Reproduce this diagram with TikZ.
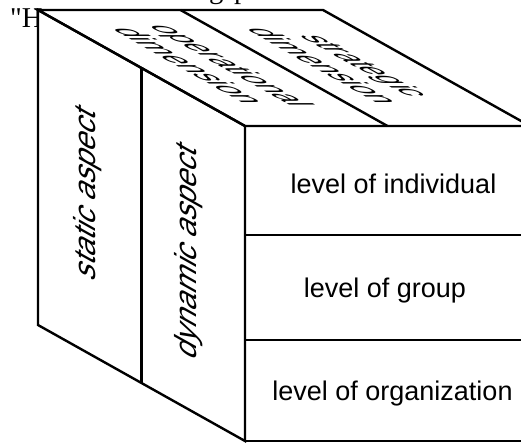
\documentclass[tikz,border=0pt]{standalone}
\usepackage{fontspec}
\setmainfont{Liberation Sans}
\newfontfamily\captionserif{Liberation Serif}
\begin{document}
\begin{tikzpicture}[x=1pt,y=-1pt,
  edge/.style={line width=2.4pt, line join=miter},
  frontlabel/.style={font=\fontsize{27}{32}\selectfont, anchor=base, inner sep=0pt},
  sidelabel/.style={font=\fontsize{30.5}{36}\selectfont, inner sep=0pt,
    cm={0,1,-1,0.5604,(0,0)}},
  toplabel/.style={font=\fontsize{30}{35}\selectfont, inner sep=0pt, align=center,
    cm={0.97,-0.5436,1.2,0,(0,0)}},
  captiontext/.style={font=\captionserif\fontsize{28.7}{28.7}\selectfont,
    inner sep=0pt, anchor=base west}]
\useasboundingbox (0,0) rectangle (521,442);
\clip (0,0) rectangle (521,442);

% caption lines running behind the cube
\node[captiontext] (capg) at (209,-1.5) {g};
\node[captiontext] (capp) at (234,-1.5) {p};
\node[captiontext] (caph) at (10,27) {"H};

% cube corners
\coordinate (btl) at (38,10);
\coordinate (btr) at (323,10);
\coordinate (ftl) at (245,126);
\coordinate (ftr) at (530,126);
\coordinate (bbl) at (38,325);
\coordinate (fbl) at (245,441);
\coordinate (fbr) at (530,441);

% division points
\coordinate (topmidb) at (180.5,10);
\coordinate (topmidf) at (387.5,126);
\coordinate (sidemidt) at (141.5,68);
\coordinate (sidemidb) at (141.5,383);
\coordinate (rowal) at (245,235);
\coordinate (rowar) at (530,235);
\coordinate (rowbl) at (245,340);
\coordinate (rowbr) at (530,340);

% opaque cube body
\fill[white] (btl) -- (btr) -- (ftr) -- (fbr) -- (fbl) -- (bbl) -- cycle;

% faces
\draw[edge] (btl) -- (btr) -- (ftr) -- (ftl) -- cycle;
\draw[edge] (btl) -- (ftl) -- (fbl) -- (bbl) -- cycle;
\draw[edge] (ftl) rectangle (fbr);

% subdivisions
\draw[edge] (topmidb) -- (topmidf);
\draw[edge] (sidemidt) -- (sidemidb);
\draw[edge] (rowal) -- (rowar);
\draw[edge] (rowbl) -- (rowbr);

% top face labels
\node[toplabel] (oper) at (211,66) {operational\\dimension};
\node[toplabel] (strat) at (345,66) {strategic\\dimension};

% side face labels
\node[sidelabel] (stat) at (88,193) {static aspect};
\node[sidelabel] (dyn) at (189,251) {dynamic aspect};

% front face labels
\node[frontlabel] (indiv) at (393.5,193) {level of individual};
\node[frontlabel] (group) at (385,297) {level of group};
\node[frontlabel] (organ) at (392.5,400) {level of organization};
\end{tikzpicture}
\end{document}
